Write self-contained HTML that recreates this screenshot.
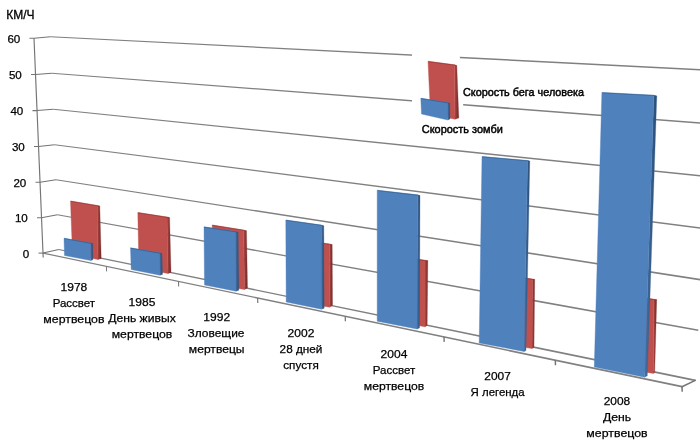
<!DOCTYPE html>
<html lang="ru">
<head>
<meta charset="utf-8">
<title>Скорость зомби</title>
<style>
html,body{margin:0;padding:0;background:#fff;}
body{width:700px;height:445px;overflow:hidden;font-family:"Liberation Sans","DejaVu Sans",sans-serif;}
svg{display:block;}
</style>
</head>
<body>
<svg width="700" height="445" viewBox="0 0 700 445">
<rect width="700" height="445" fill="#fff"/>
<defs><linearGradient id="gb" x1="0" y1="0" x2="1" y2="0"><stop offset="0" stop-color="#44709F"/><stop offset="1" stop-color="#2B4C76"/></linearGradient><linearGradient id="gr" x1="0" y1="0" x2="1" y2="0"><stop offset="0" stop-color="#B04845"/><stop offset="1" stop-color="#6F2725"/></linearGradient></defs>
<g fill="#808080" stroke="none">
<polygon points="50.4,37.3 460.0,58.3 704.0,70.7 704.0,69.1 460.0,56.8 50.4,36.3"/>
<polygon points="51.8,73.7 459.9,105.3 703.9,124.1 704.1,122.5 460.1,103.8 51.8,72.7"/>
<polygon points="53.2,109.7 459.9,151.8 703.9,177.0 704.1,175.4 460.1,150.3 53.3,108.7"/>
<polygon points="54.6,145.2 459.9,197.8 703.9,229.3 704.1,227.7 460.1,196.3 54.7,144.2"/>
<polygon points="55.9,180.3 459.9,243.2 703.9,281.1 704.1,279.5 460.1,241.7 56.1,179.3"/>
<polygon points="57.3,215.2 459.9,288.0 698.2,331.0 698.4,329.4 460.1,286.5 57.5,214.2"/>
<polygon points="42.9,253.7 459.8,341.1 681.8,387.6 682.2,385.8 460.2,339.5 43.1,252.5"/>
<polygon points="58.7,250.1 459.8,332.8 695.1,381.3 695.5,379.5 460.2,331.2 58.9,248.9"/>
</g>
<g fill="none" stroke="#747474" stroke-width="1.05" stroke-linecap="butt" stroke-linejoin="round">
<polyline points="29.5,38.3 34.0,38.3 50.4,36.8"/>
<polyline points="31.0,74.5 35.5,74.5 51.8,73.2"/>
<polyline points="32.5,110.6 37.0,110.6 53.2,109.2"/>
<polyline points="34.0,146.5 38.5,146.5 54.6,144.7"/>
<polyline points="35.5,182.2 40.0,182.2 56.0,179.8"/>
<polyline points="37.0,217.8 41.5,217.8 57.4,214.7"/>
<polyline points="38.5,253.1 43.0,253.1"/>
<polyline points="34.0,38.3 43.2,257.6" stroke-width="1.15"/>
<polyline points="43.0,253.1 58.8,249.5"/>
<polyline points="682.0,386.7 695.3,380.4" stroke-width="1.55" stroke-linecap="round"/>
<line x1="106.4" y1="266.4" x2="106.6" y2="271.4" stroke-width="0.96"/>
<line x1="178.5" y1="281.4" x2="178.7" y2="286.4" stroke-width="1.05"/>
<line x1="257.6" y1="298.0" x2="257.8" y2="303.0" stroke-width="1.15"/>
<line x1="345.2" y1="316.3" x2="345.4" y2="321.3" stroke-width="1.26"/>
<line x1="444.0" y1="336.9" x2="444.2" y2="341.9" stroke-width="1.38"/>
<line x1="555.3" y1="360.2" x2="555.5" y2="365.2" stroke-width="1.44"/>
<line x1="682.0" y1="386.7" x2="682.2" y2="391.7" stroke-width="1.49"/>
</g>
<polygon points="412,48 459.2,48 463.4,108 463.4,138 412,138" fill="#fff"/>
<polygon points="97.2,205.4 99.8,206.0 101.2,258.4 98.0,259.5" fill="url(#gr)" stroke="#8C3836" stroke-width="0.3"/>
<polygon points="70.5,201.0 97.2,205.4 98.0,259.5 72.5,254.5" fill="#C0504D" stroke="#C0504D" stroke-width="0.4"/>
<polyline points="70.8,201.3 97.2,205.8 99.6,206.3" fill="none" stroke="#8A2F2D" stroke-width="0.8" stroke-opacity="0.75"/>
<polygon points="90.5,243.0 92.8,243.5 92.9,259.7 90.8,260.5" fill="url(#gb)" stroke="#3A6192" stroke-width="0.3"/>
<polygon points="64.0,238.2 90.5,243.0 90.8,260.5 64.5,255.5" fill="#4F81BD" stroke="#4F81BD" stroke-width="0.4"/>
<polyline points="64.3,238.5 90.5,243.3 92.6,243.8" fill="none" stroke="#2C5585" stroke-width="0.8" stroke-opacity="0.75"/>
<polygon points="167.0,217.0 169.6,217.5 171.0,272.4 168.0,273.5" fill="url(#gr)" stroke="#8C3836" stroke-width="0.3"/>
<polygon points="137.8,212.5 167.0,217.0 168.0,273.5 139.0,268.5" fill="#C0504D" stroke="#C0504D" stroke-width="0.4"/>
<polyline points="138.1,212.8 167.0,217.3 169.4,217.8" fill="none" stroke="#8A2F2D" stroke-width="0.8" stroke-opacity="0.75"/>
<polygon points="159.5,252.8 162.0,253.4 162.5,274.4 160.0,275.2" fill="url(#gb)" stroke="#3A6192" stroke-width="0.3"/>
<polygon points="130.5,247.8 159.5,252.8 160.0,275.2 131.2,269.5" fill="#4F81BD" stroke="#4F81BD" stroke-width="0.4"/>
<polyline points="130.8,248.2 159.5,253.2 161.8,253.8" fill="none" stroke="#2C5585" stroke-width="0.8" stroke-opacity="0.75"/>
<polygon points="243.5,230.0 246.5,230.7 247.5,288.0 244.5,289.5" fill="url(#gr)" stroke="#8C3836" stroke-width="0.3"/>
<polygon points="212.2,225.0 243.5,230.0 244.5,289.5 213.0,284.5" fill="#C0504D" stroke="#C0504D" stroke-width="0.4"/>
<polyline points="212.5,225.3 243.5,230.3 246.3,231.0" fill="none" stroke="#8A2F2D" stroke-width="0.8" stroke-opacity="0.75"/>
<polygon points="235.5,231.5 238.2,232.2 238.8,290.2 236.0,291.2" fill="url(#gb)" stroke="#3A6192" stroke-width="0.3"/>
<polygon points="204.0,226.8 235.5,231.5 236.0,291.2 204.5,285.0" fill="#4F81BD" stroke="#4F81BD" stroke-width="0.4"/>
<polyline points="204.3,227.2 235.5,231.8 238.0,232.5" fill="none" stroke="#2C5585" stroke-width="0.8" stroke-opacity="0.75"/>
<polygon points="329.5,244.0 332.2,244.5 332.5,305.5 329.5,307.2" fill="url(#gr)" stroke="#8C3836" stroke-width="0.3"/>
<polygon points="295.0,239.0 329.5,244.0 329.5,307.2 296.0,301.0" fill="#C0504D" stroke="#C0504D" stroke-width="0.4"/>
<polyline points="295.3,239.3 329.5,244.3 332.0,244.8" fill="none" stroke="#8A2F2D" stroke-width="0.8" stroke-opacity="0.75"/>
<polygon points="321.2,225.0 323.8,225.8 324.2,308.2 321.5,309.2" fill="url(#gb)" stroke="#3A6192" stroke-width="0.3"/>
<polygon points="285.8,220.0 321.2,225.0 321.5,309.2 286.2,302.0" fill="#4F81BD" stroke="#4F81BD" stroke-width="0.4"/>
<polyline points="286.1,220.3 321.2,225.3 323.6,226.2" fill="none" stroke="#2C5585" stroke-width="0.8" stroke-opacity="0.75"/>
<polygon points="425.0,260.2 427.8,260.6 427.2,325.5 425.0,326.8" fill="url(#gr)" stroke="#8C3836" stroke-width="0.3"/>
<polygon points="385.0,254.0 425.0,260.2 425.0,326.8 385.0,320.0" fill="#C0504D" stroke="#C0504D" stroke-width="0.4"/>
<polyline points="385.3,254.3 425.0,260.6 427.6,261.0" fill="none" stroke="#8A2F2D" stroke-width="0.8" stroke-opacity="0.75"/>
<polygon points="417.5,194.8 420.0,195.5 419.5,328.0 417.0,329.0" fill="url(#gb)" stroke="#3A6192" stroke-width="0.3"/>
<polygon points="377.2,190.2 417.5,194.8 417.0,329.0 377.2,321.2" fill="#4F81BD" stroke="#4F81BD" stroke-width="0.4"/>
<polyline points="377.5,190.5 417.5,195.2 419.8,195.8" fill="none" stroke="#2C5585" stroke-width="0.8" stroke-opacity="0.75"/>
<polygon points="532.3,279.0 534.7,279.3 534.0,347.5 532.0,348.5" fill="url(#gr)" stroke="#8C3836" stroke-width="0.3"/>
<polygon points="490.0,272.0 532.3,279.0 532.0,348.5 490.0,342.0" fill="#C0504D" stroke="#C0504D" stroke-width="0.4"/>
<polyline points="490.3,272.4 532.3,279.4 534.5,279.7" fill="none" stroke="#8A2F2D" stroke-width="0.8" stroke-opacity="0.75"/>
<polygon points="527.5,160.5 529.8,161.0 526.0,350.5 524.0,351.5" fill="url(#gb)" stroke="#3A6192" stroke-width="0.3"/>
<polygon points="482.0,156.5 527.5,160.5 524.0,351.5 479.2,343.0" fill="#4F81BD" stroke="#4F81BD" stroke-width="0.4"/>
<polyline points="482.3,156.8 527.5,160.8 529.6,161.3" fill="none" stroke="#2C5585" stroke-width="0.8" stroke-opacity="0.75"/>
<polygon points="653.9,299.2 656.7,299.5 654.7,372.6 653.3,373.4" fill="url(#gr)" stroke="#8C3836" stroke-width="0.3"/>
<polygon points="610.0,292.0 653.9,299.2 653.3,373.4 605.0,365.0" fill="#C0504D" stroke="#C0504D" stroke-width="0.4"/>
<polyline points="610.3,292.4 653.9,299.6 656.5,299.9" fill="none" stroke="#8A2F2D" stroke-width="0.8" stroke-opacity="0.75"/>
<polygon points="653.8,95.2 656.8,95.9 647.3,375.8 644.7,377.2" fill="url(#gb)" stroke="#3A6192" stroke-width="0.3"/>
<polygon points="601.9,92.4 653.8,95.2 644.7,377.2 594.3,367.1" fill="#4F81BD" stroke="#4F81BD" stroke-width="0.4"/>
<polyline points="602.2,92.8 653.8,95.5 656.6,96.2" fill="none" stroke="#2C5585" stroke-width="0.8" stroke-opacity="0.75"/>
<polygon points="454.5,64.8 456.8,65.5 458.8,118.0 455.0,119.2" fill="url(#gr)" stroke="#8C3836" stroke-width="0.3"/>
<polygon points="428.0,61.2 454.5,64.8 455.0,119.2 430.5,114.0" fill="#C0504D" stroke="#C0504D" stroke-width="0.4"/>
<polyline points="428.3,61.6 454.5,65.1 456.6,65.8" fill="none" stroke="#8A2F2D" stroke-width="0.8" stroke-opacity="0.75"/>
<polygon points="447.5,102.5 449.8,103.2 450.0,119.0 447.8,120.0" fill="url(#gb)" stroke="#3A6192" stroke-width="0.3"/>
<polygon points="420.8,98.2 447.5,102.5 447.8,120.0 421.5,114.0" fill="#4F81BD" stroke="#4F81BD" stroke-width="0.4"/>
<polyline points="421.1,98.5 447.5,102.8 449.6,103.5" fill="none" stroke="#2C5585" stroke-width="0.8" stroke-opacity="0.75"/>
<g font-family="'Liberation Sans', 'DejaVu Sans', sans-serif" fill="#000" stroke="#000" stroke-width="0.25">
<text x="20.3" y="42.8" text-anchor="end" font-size="11.6">60</text>
<text x="21.8" y="79.0" text-anchor="end" font-size="11.6">50</text>
<text x="23.3" y="115.1" text-anchor="end" font-size="11.6">40</text>
<text x="24.8" y="151.0" text-anchor="end" font-size="11.6">30</text>
<text x="26.3" y="186.7" text-anchor="end" font-size="11.6">20</text>
<text x="27.8" y="222.2" text-anchor="end" font-size="11.6">10</text>
<text x="29.3" y="257.6" text-anchor="end" font-size="11.6">0</text>
<text x="6.2" y="18.9" text-anchor="start" font-size="12.4" textLength="28.3" lengthAdjust="spacingAndGlyphs" stroke="#000" stroke-width="0.3">КМ/Ч</text>
<text x="73.9" y="290.6" text-anchor="middle" font-size="11.8" textLength="26.8" lengthAdjust="spacingAndGlyphs">1978</text>
<text x="73.9" y="306.6" text-anchor="middle" font-size="11.8" textLength="42.4" lengthAdjust="spacingAndGlyphs">Рассвет</text>
<text x="73.9" y="322.6" text-anchor="middle" font-size="11.8" textLength="61.2" lengthAdjust="spacingAndGlyphs">мертвецов</text>
<text x="142.0" y="306.0" text-anchor="middle" font-size="11.8" textLength="26.8" lengthAdjust="spacingAndGlyphs">1985</text>
<text x="142.0" y="322.0" text-anchor="middle" font-size="11.8" textLength="67.6" lengthAdjust="spacingAndGlyphs">День живых</text>
<text x="142.0" y="338.0" text-anchor="middle" font-size="11.8" textLength="60.6" lengthAdjust="spacingAndGlyphs">мертвецов</text>
<text x="216.7" y="320.6" text-anchor="middle" font-size="11.8" textLength="26.8" lengthAdjust="spacingAndGlyphs">1992</text>
<text x="216.0" y="336.6" text-anchor="middle" font-size="11.8" textLength="56.9" lengthAdjust="spacingAndGlyphs">Зловещие</text>
<text x="216.7" y="352.6" text-anchor="middle" font-size="11.8" textLength="55.7" lengthAdjust="spacingAndGlyphs">мертвецы</text>
<text x="301.0" y="336.7" text-anchor="middle" font-size="11.8" textLength="26.8" lengthAdjust="spacingAndGlyphs">2002</text>
<text x="301.0" y="352.7" text-anchor="middle" font-size="11.8" textLength="42.8" lengthAdjust="spacingAndGlyphs">28 дней</text>
<text x="301.0" y="368.7" text-anchor="middle" font-size="11.8" textLength="35.5" lengthAdjust="spacingAndGlyphs">спустя</text>
<text x="394.0" y="357.7" text-anchor="middle" font-size="11.8" textLength="26.8" lengthAdjust="spacingAndGlyphs">2004</text>
<text x="394.0" y="373.7" text-anchor="middle" font-size="11.8" textLength="42.5" lengthAdjust="spacingAndGlyphs">Рассвет</text>
<text x="394.0" y="389.7" text-anchor="middle" font-size="11.8" textLength="60.5" lengthAdjust="spacingAndGlyphs">мертвецов</text>
<text x="497.6" y="379.7" text-anchor="middle" font-size="11.8" textLength="26.5" lengthAdjust="spacingAndGlyphs">2007</text>
<text x="497.6" y="395.7" text-anchor="middle" font-size="11.8" textLength="54.0" lengthAdjust="spacingAndGlyphs">Я легенда</text>
<text x="617.0" y="405.1" text-anchor="middle" font-size="11.8" textLength="26.5" lengthAdjust="spacingAndGlyphs">2008</text>
<text x="617.0" y="421.1" text-anchor="middle" font-size="11.8" textLength="28.2" lengthAdjust="spacingAndGlyphs">День</text>
<text x="617.0" y="437.1" text-anchor="middle" font-size="11.8" textLength="61.3" lengthAdjust="spacingAndGlyphs">мертвецов</text>
<text x="463.0" y="96.0" text-anchor="start" font-size="10.9" textLength="121.0" lengthAdjust="spacingAndGlyphs" stroke="#000" stroke-width="0.45">Скорость бега человека</text>
<text x="421.8" y="133.0" text-anchor="start" font-size="10.9" textLength="81.0" lengthAdjust="spacingAndGlyphs" stroke="#000" stroke-width="0.45">Скорость зомби</text>
</g>
</svg>
</body>
</html>
